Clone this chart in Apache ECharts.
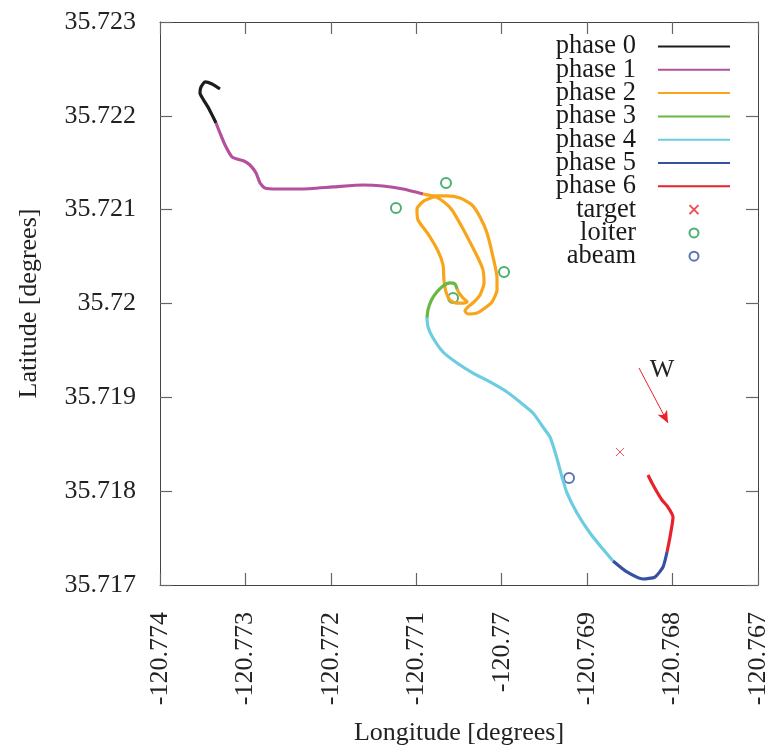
<!DOCTYPE html>
<html>
<head>
<meta charset="utf-8">
<script src="https://cdn.jsdelivr.net/npm/echarts@6/dist/echarts.min.js"></script>
<style>
  html, body { margin: 0; padding: 0; background: #fff; }
  #chart { width: 766px; height: 750px; }
</style>
</head>
<body>
<div id="chart"></div>
<script>
// flight track, one array per phase, [longitude, latitude]
const phase0 = [[-120.773298,35.722286],[-120.773391,35.722339],[-120.773473,35.722361],[-120.773520,35.722307],
  [-120.773532,35.722244],[-120.773497,35.722180],[-120.773426,35.722073],[-120.773344,35.721924]]
const phase1 = [[-120.773344,35.721924],[-120.773298,35.721817],[-120.773239,35.721689],[-120.773157,35.721561],
  [-120.773099,35.721540],[-120.773017,35.721519],[-120.772947,35.721476],[-120.772876,35.721391],
  [-120.772829,35.721284],[-120.772771,35.721231],[-120.772630,35.721220],[-120.772361,35.721220],
  [-120.771975,35.721242],[-120.771624,35.721263],[-120.771390,35.721252],[-120.771156,35.721220],
  [-120.770921,35.721167]]
const phase2 = [[-120.770922,35.721167],[-120.770781,35.721146],[-120.770641,35.721146],[-120.770488,35.721124],
  [-120.770348,35.721050],[-120.770254,35.720922],[-120.770172,35.720751],[-120.770102,35.720496],
  [-120.770055,35.720272],[-120.770055,35.720144],[-120.770114,35.720016],[-120.770196,35.719952],
  [-120.770289,35.719899],[-120.770395,35.719888],[-120.770430,35.719920],[-120.770395,35.719963],
  [-120.770325,35.720016],[-120.770254,35.720091],[-120.770207,35.720219],[-120.770219,35.720357],
  [-120.770266,35.720464],[-120.770348,35.720613],[-120.770465,35.720815],[-120.770582,35.720997],
  [-120.770676,35.721082],[-120.770781,35.721135],[-120.770910,35.721093],[-120.770992,35.721007],
  [-120.770980,35.720890],[-120.770863,35.720741],[-120.770746,35.720560],[-120.770687,35.720410],
  [-120.770676,35.720251],[-120.770652,35.720123],[-120.770605,35.720037],[-120.770535,35.720005],
  [-120.770442,35.720005],[-120.770406,35.720016],[-120.770453,35.720059],[-120.770500,35.720112],
  [-120.770523,35.720155]]
const phase3 = [[-120.770523,35.720155],[-120.770547,35.720208],[-120.770605,35.720219],[-120.770687,35.720187],
  [-120.770769,35.720112],[-120.770828,35.720027],[-120.770863,35.719931],[-120.770875,35.719846]]
const phase4 = [[-120.770875,35.719846],[-120.770863,35.719750],[-120.770804,35.719632],[-120.770687,35.719483],
  [-120.770523,35.719366],[-120.770336,35.719259],[-120.770137,35.719164],[-120.769938,35.719057],
  [-120.769786,35.718950],[-120.769634,35.718833],[-120.769517,35.718684],[-120.769435,35.718577],
  [-120.769365,35.718386],[-120.769294,35.718151],[-120.769236,35.717981],[-120.769119,35.717767],
  [-120.768967,35.717554],[-120.768826,35.717394],[-120.768697,35.717256]]
const phase5 = [[-120.768697,35.717256],[-120.768534,35.717139],[-120.768346,35.717064],[-120.768206,35.717085],
  [-120.768112,35.717192],[-120.768065,35.717352]]
const phase6 = [[-120.768065,35.717352],[-120.768030,35.717512],[-120.767995,35.717725],[-120.768054,35.717831],
  [-120.768124,35.717906],[-120.768182,35.717991],[-120.768241,35.718087],[-120.768288,35.718172]]

const targetPts = [[-120.768616,35.718417]]
const loiterPts = [[-120.770652,35.721284],[-120.771238,35.721018],[-120.769973,35.720336],[-120.770570,35.720059]]
const abeamPts = [[-120.769212,35.718140]]

// wind arrow start/end and its label
const windArrow = [[-120.768393,35.719313],[-120.768054,35.718727]]
const windLabel = [-120.768124,35.719290]

const phaseNames = ['phase 0','phase 1','phase 2','phase 3','phase 4','phase 5','phase 6']
const phaseColors = ['#1c1c1c','#b4519e','#f8a51b','#68b843','#6dcde0','#3650a2','#e9212b']
const phaseData = [phase0, phase1, phase2, phase3, phase4, phase5, phase6]

const FONT = 'Liberation Serif'
const fmt = v => String(Number(v.toFixed(3)))

const chart = echarts.init(document.getElementById('chart'))

const axisBase = {
   type: 'value',
   interval: 0.001,
   axisLine: { show: true, lineStyle: { color: '#444', width: 1 } },
   axisTick: { show: true, inside: true, length: 12, lineStyle: { color: '#666', width: 1.2 } },
   splitLine: { show: false }
}

const series = phaseData.map((d, i) => ({
   name: phaseNames[i],
   type: 'line',
   data: d,
   symbol: 'none',
   smooth: 0.2,
   lineStyle: { color: phaseColors[i], width: 3.2 },
   itemStyle: { color: phaseColors[i] },
   z: 3
}))

series.push({
   name: 'target',
   type: 'scatter',
   data: targetPts,
   symbol: 'path://M0,0L10,10M10,0L0,10',
   symbolSize: 8,
   itemStyle: { color: 'none', borderColor: '#e9212b', borderWidth: 1 },
   markLine: {
      silent: true,
      symbol: ['none', 'arrow'],
      symbolSize: [8, 12],
      label: { show: false },
      lineStyle: { color: '#e9212b', width: 1, type: 'solid' },
      data: [[{ coord: windArrow[0] }, { coord: windArrow[1] }]]
   },
   markPoint: {
      silent: true,
      symbol: 'circle',
      symbolSize: 1,
      itemStyle: { color: 'transparent' },
      label: { show: true, formatter: 'W', color: '#222', fontFamily: FONT, fontSize: 26, position: 'inside' },
      data: [{ coord: windLabel }]
   }
})
series.push({
   name: 'loiter',
   type: 'scatter',
   data: loiterPts,
   symbol: 'emptyCircle',
   symbolSize: 10,
   itemStyle: { color: '#1f9e4c', borderWidth: 1 }
})
series.push({
   name: 'abeam',
   type: 'scatter',
   data: abeamPts,
   symbol: 'emptyCircle',
   symbolSize: 10,
   itemStyle: { color: '#3650a2', borderWidth: 1 }
})

// legend: phase lines without the dot, markers as drawn
const legendData = phaseNames.map(n => ({ name: n, itemStyle: { opacity: 0 } }))
   .concat(['target', 'loiter', 'abeam'].map(n => ({ name: n })))

const option = {
   animation: false,
   backgroundColor: '#fff',
   textStyle: { fontFamily: FONT },
   grid: { left: 160, right: 8, top: 22, bottom: 165, outerBoundsMode: 'none' },
   legend: {
      data: legendData,
      orient: 'vertical',
      align: 'right',
      right: 35,
      top: 33,
      padding: 0,
      itemWidth: 72,
      itemHeight: 9,
      itemGap: -3.7,
      textStyle: { fontFamily: FONT, fontSize: 26.5, color: '#1a1a1a', padding: [0, 17, 0, 0] },
      selectedMode: false
   },
   xAxis: [
      Object.assign({}, axisBase, {
         min: -120.774, max: -120.767,
         name: 'Longitude [degrees]',
         nameLocation: 'middle',
         nameGap: 135,
         nameTextStyle: { fontFamily: FONT, fontSize: 26, color: '#222' },
         axisLabel: { rotate: 90, margin: 27, fontFamily: FONT, fontSize: 26, color: '#222', formatter: fmt }
      }),
      Object.assign({}, axisBase, {
         min: -120.774, max: -120.767, position: 'top',
         axisLabel: { show: false }
      })
   ],
   yAxis: [
      Object.assign({}, axisBase, {
         min: 35.717, max: 35.723,
         name: 'Latitude [degrees]',
         nameLocation: 'middle',
         nameGap: 118,
         nameTextStyle: { fontFamily: FONT, fontSize: 26, color: '#222' },
         axisLabel: { margin: 24, fontFamily: FONT, fontSize: 26, color: '#222', formatter: fmt }
      }),
      Object.assign({}, axisBase, {
         min: 35.717, max: 35.723, position: 'right',
         axisLabel: { show: false }
      })
   ],
   series: series
}

chart.setOption(option)
</script>
</body>
</html>
